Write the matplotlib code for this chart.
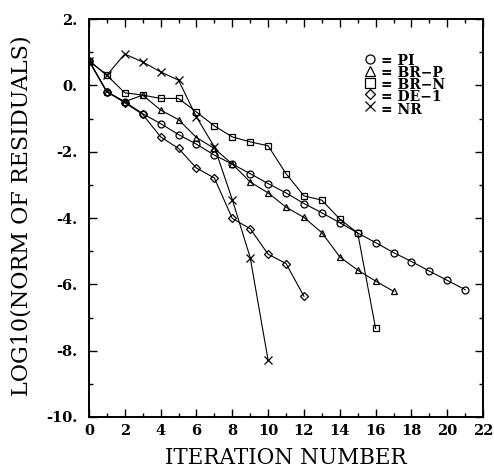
import matplotlib
matplotlib.use("Agg")
import matplotlib.pyplot as plt
from matplotlib.ticker import MultipleLocator, FixedLocator

# ---- data ----
pi_x = list(range(0, 22))
pi_y = [0.75, -0.19, -0.49, -0.85, -1.15, -1.48, -1.77, -2.1, -2.37, -2.66,
        -2.96, -3.24, -3.56, -3.84, -4.14, -4.45, -4.74, -5.04, -5.31, -5.6,
        -5.88, -6.16]
brp_x = list(range(0, 18))
brp_y = [0.75, -0.19, -0.49, -0.29, -0.74, -1.03, -1.57, -1.9, -2.37, -2.91,
         -3.24, -3.67, -3.98, -4.44, -5.17, -5.57, -5.9, -6.21]
brn_x = list(range(0, 17))
brn_y = [0.75, 0.31, -0.22, -0.29, -0.39, -0.39, -0.8, -1.22, -1.55, -1.7,
         -1.82, -2.66, -3.33, -3.46, -4.03, -4.45, -7.33]
de1_x = list(range(0, 13))
de1_y = [0.75, -0.19, -0.52, -0.87, -1.55, -1.9, -2.49, -2.79, -4.01, -4.32,
         -5.09, -5.37, -6.36]
nr_x = list(range(0, 11))
nr_y = [0.75, 0.31, 0.95, 0.71, 0.41, 0.16, -0.95, -1.85, -3.44, -5.19, -8.29]

series_labels = ["PI", "BR\u2212P", "BR\u2212N", "DE\u22121", "NR"]
series_markers = ["o", "^", "s", "D", "x"]

xticks = list(range(0, 23, 2))
yticks = [2, 0, -2, -4, -6, -8, -10]
ytick_labels = ["2.", "0.", "-2.", "-4.", "-6.", "-8.", "-10."]

# ---- figure ----
fig = plt.figure(figsize=(4.94, 4.68), dpi=100)
ax = fig.add_axes([0.180, 0.109, 0.798, 0.850])

serif = ["DejaVu Serif"]
data = [(pi_x, pi_y), (brp_x, brp_y), (brn_x, brn_y), (de1_x, de1_y), (nr_x, nr_y)]
for (xs, ys), m in zip(data, series_markers):
    ms = 4.2 if m == "D" else (6 if m == "x" else 5)
    ax.plot(xs, ys, color="black", lw=0.8, marker=m, markersize=ms,
            markerfacecolor="none", markeredgecolor="black", markeredgewidth=0.9)

ax.set_xlim(0, 22)
ax.set_ylim(-10, 2)
ax.xaxis.set_major_locator(FixedLocator(xticks))
ax.xaxis.set_minor_locator(MultipleLocator(1))
ax.yaxis.set_major_locator(FixedLocator(yticks))
ax.yaxis.set_minor_locator(MultipleLocator(1))
ax.set_xticklabels([str(t) for t in xticks], family=serif, fontweight="bold", fontsize=10.5)
ax.set_yticklabels(ytick_labels, family=serif, fontweight="bold", fontsize=10.5)
ax.tick_params(which="both", direction="in", top=True, right=True, width=1.0)
ax.tick_params(which="major", length=6)
ax.tick_params(axis="y", which="major", pad=8)
ax.tick_params(axis="x", which="major", pad=5)
ax.tick_params(which="minor", length=3)
for s in ax.spines.values():
    s.set_linewidth(1.4)

ax.set_xlabel("ITERATION NUMBER", family=serif, fontsize=15.5)
ax.set_ylabel("LOG10(NORM OF RESIDUALS)", family=serif, fontsize=16)
ax.xaxis.set_label_coords(0.5, -0.075)
ax.yaxis.set_label_coords(-0.142, 0.505)

# ---- legend: marker keys + one multi-line text block ----
leg_x_marker = 0.712
leg_x_text = 0.742
leg_top = 0.8995
leg_step = 0.0296
for i, m in enumerate(series_markers):
    ax.plot([leg_x_marker], [leg_top - i * leg_step], transform=ax.transAxes,
            linestyle="none", marker=m, markersize=(4.8 if m == "D" else 6.5),
            markerfacecolor="none", markeredgecolor="black", markeredgewidth=0.9,
            clip_on=False)
ax.text(leg_x_text, leg_top + 0.013, "\n".join("= " + l for l in series_labels),
        transform=ax.transAxes, ha="left", va="top", family=serif,
        fontweight="bold", fontsize=10, linespacing=0.83)

fig.savefig("out.png", dpi=100)
